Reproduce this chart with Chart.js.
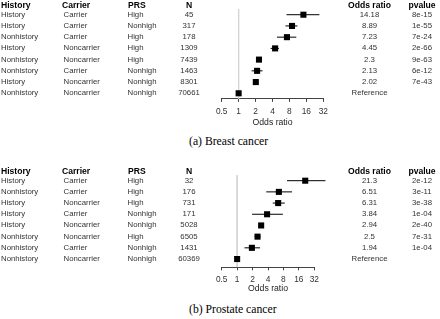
<!DOCTYPE html>
<html><head><meta charset="utf-8">
<script src="https://cdn.jsdelivr.net/npm/chart.js@4/dist/chart.umd.min.js"></script>
<style>
html,body{margin:0;padding:0;background:#fff;width:440px;height:319px;overflow:hidden;}
#wrap{position:relative;width:440px;height:319px;}
canvas{position:absolute;left:0;}
.t{position:absolute;font-family:"Liberation Sans",Arial,sans-serif;white-space:nowrap;line-height:1;}
.h{font-weight:bold;color:#000;font-size:8.6px;}
.v{color:#333;font-size:7.8px;}
.cap{position:absolute;font-family:"Liberation Serif","Times New Roman",serif;font-size:11.7px;color:#000;white-space:nowrap;line-height:1;}
</style></head>
<body><div id="wrap">
<canvas id="ca" width="440" height="132" style="top:0px"></canvas>
<canvas id="cb" width="440" height="140" style="top:160px"></canvas>
</div>
<script>
// ---- Data ----
const headers = ["History","Carrier","PRS","N","Odds ratio","pvalue"];
const xTicks = [0.5,1,2,4,8,16,32];
const xTickLabels = ["0.5","1","2","4","8","16","32"];

const breastHistory = ["History","History","Nonhistory","History","Nonhistory","Nonhistory","History","Nonhistory"];
const breastCarrier = ["Carrier","Carrier","Carrier","Noncarrier","Noncarrier","Carrier","Noncarrier","Noncarrier"];
const breastPRS = ["High","Nonhigh","High","High","High","Nonhigh","Nonhigh","Nonhigh"];
const breastN = ["45","317","178","1309","7439","1463","8301","70661"];
const breastOR = [14.18,8.89,7.23,4.45,2.3,2.13,2.02,1];
const breastORText = ["14.18","8.89","7.23","4.45","2.3","2.13","2.02","Reference"];
const breastP = ["8e-15","1e-55","7e-24","2e-66","9e-63","6e-12","7e-43",""];
const breastLo = [7.1,6.8,4.8,3.7,2.1,1.7,1.85,1];
const breastHi = [27.3,11.1,10.6,5.2,2.5,2.66,2.2,1];

const prostateHistory = ["History","Nonhistory","History","History","History","Nonhistory","Nonhistory","Nonhistory"];
const prostateCarrier = ["Carrier","Carrier","Noncarrier","Carrier","Noncarrier","Noncarrier","Carrier","Noncarrier"];
const prostatePRS = ["High","High","High","Nonhigh","Nonhigh","High","Nonhigh","Nonhigh"];
const prostateN = ["32","176","731","171","5028","6505","1431","60369"];
const prostateOR = [21.3,6.51,6.31,3.84,2.94,2.5,1.94,1];
const prostateORText = ["21.3","6.51","6.31","3.84","2.94","2.5","1.94","Reference"];
const prostateP = ["2e-12","3e-11","3e-38","1e-04","2e-40","7e-31","1e-04",""];
const prostateLo = [9.4,3.7,4.95,1.96,2.65,2.2,1.39,1];
const prostateHi = [52.8,11.8,8.5,7.8,3.25,2.85,2.8,1];

// ---- Layout ----
const colLeft = {History:1, Carrier:63.5, PRS:127.5};
const headerLeft = {History:1, Carrier:62, PRS:128};
const colCenter = {N:189, OR:369.5, P:422};

function makePanel(canvasId, topOffset, cfg){
  const n = cfg.or.length;
  const datasets = [];
  datasets.push({
    type:'scatter',
    data: cfg.or.map((v,i)=>({x:v,y:i})),
    pointStyle:'rect', pointRadius:4.3, pointHoverRadius:4.3,
    backgroundColor:'#000', borderColor:'#000', borderWidth:0,
    clip:false
  });
  for(let i=0;i<n;i++){
    if(cfg.lo[i]===cfg.hi[i]) continue;
    datasets.push({
      type:'line',
      data:[{x:cfg.lo[i],y:i},{x:cfg.hi[i],y:i}],
      borderColor:'#000', borderWidth:1, pointRadius:0, clip:false
    });
  }
  datasets.push({
    type:'line',
    data:[{x:1,y:-0.5},{x:1,y:cfg.ymax}],
    borderColor:'#d4d4d4', borderWidth:1, pointRadius:0
  });
  const chart = new Chart(document.getElementById(canvasId), {
    type:'scatter',
    data:{datasets},
    options:{
      responsive:false, animation:false, events:[],
      layout:{padding:{left:221.7, right:cfg.padRight, top:cfg.padTop, bottom:cfg.padBottom}},
      plugins:{legend:{display:false}, tooltip:{enabled:false}},
      scales:{
        x:{
          type:'logarithmic', min:0.5, max:32,
          afterBuildTicks:(s)=>{ s.ticks = xTicks.map(v=>({value:v})); },
          afterFit:(s)=>{ s.height = cfg.axisH; },
          ticks:{
            autoSkip:false, maxRotation:0, padding:cfg.tickPad,
            color:'#333', font:{family:'"Liberation Sans", Arial, sans-serif', size:8.4},
            callback:(v)=>{ const k = xTicks.indexOf(v); return k>=0 ? xTickLabels[k] : ''; }
          },
          grid:{display:true, drawOnChartArea:false, drawTicks:true, tickLength:3, color:'#444', lineWidth:1},
          border:{display:true, color:'#444', width:1},
          title:{display:true, text:'Odds ratio', color:'#222', padding:{top:0,bottom:0},
            font:{family:'"Liberation Sans", Arial, sans-serif', size:8.7}}
        },
        y:{type:'linear', reverse:true, min:-0.5, max:cfg.ymax, display:false}
      }
    }
  });
  const wrap = document.getElementById('wrap');
  const ys = chart.scales.y;
  function addText(txt, cls, x, y, center){
    const d = document.createElement('div');
    d.className = 't '+cls;
    d.textContent = txt;
    d.style.left = x+'px';
    d.style.top = y+'px';
    d.style.transform = center ? 'translate(-50%,-50%)' : 'translate(0,-50%)';
    wrap.appendChild(d);
  }
  const hy = ys.getPixelForValue(-0.88) + topOffset;
  addText(headers[0],'h',headerLeft.History,hy,false);
  addText(headers[1],'h',headerLeft.Carrier,hy,false);
  addText(headers[2],'h',headerLeft.PRS,hy,false);
  addText(headers[3],'h',colCenter.N,hy,true);
  addText(headers[4],'h',colCenter.OR,hy,true);
  addText(headers[5],'h',colCenter.P,hy,true);
  for(let i=0;i<n;i++){
    const y = ys.getPixelForValue(i) + topOffset;
    addText(cfg.hist[i],'v',colLeft.History,y,false);
    addText(cfg.car[i],'v',colLeft.Carrier,y,false);
    addText(cfg.prs[i],'v',colLeft.PRS,y,false);
    addText(cfg.nn[i],'v',colCenter.N,y,true);
    addText(cfg.orText[i],'v',colCenter.OR,y,true);
    if(cfg.p[i]) addText(cfg.p[i],'v',colCenter.P,y,true);
  }
  const c = document.createElement('div');
  c.className='cap'; c.textContent = cfg.caption;
  c.style.left = cfg.capX+'px'; c.style.top = cfg.capY+'px';
  c.style.transform='translate(0,-50%)';
  wrap.appendChild(c);
  return chart;
}

makePanel('ca', 0, {hist:breastHistory, car:breastCarrier, prs:breastPRS, nn:breastN,
  or:breastOR, orText:breastORText, p:breastP, lo:breastLo, hi:breastHi,
  ymax:7.5, padTop:9.1, padBottom:4.1, padRight:116.7, axisH:29, tickPad:5,
  caption:'(a) Breast cancer', capX:189, capY:142});
makePanel('cb', 160, {hist:prostateHistory, car:prostateCarrier, prs:prostatePRS, nn:prostateN,
  or:prostateOR, orText:prostateORText, p:prostateP, lo:prostateLo, hi:prostateHi,
  ymax:7.74, padTop:15.1, padBottom:5.7, padRight:125.7, axisH:27, tickPad:4,
  caption:'(b) Prostate cancer', capX:189, capY:310});
</script>
</body></html>
